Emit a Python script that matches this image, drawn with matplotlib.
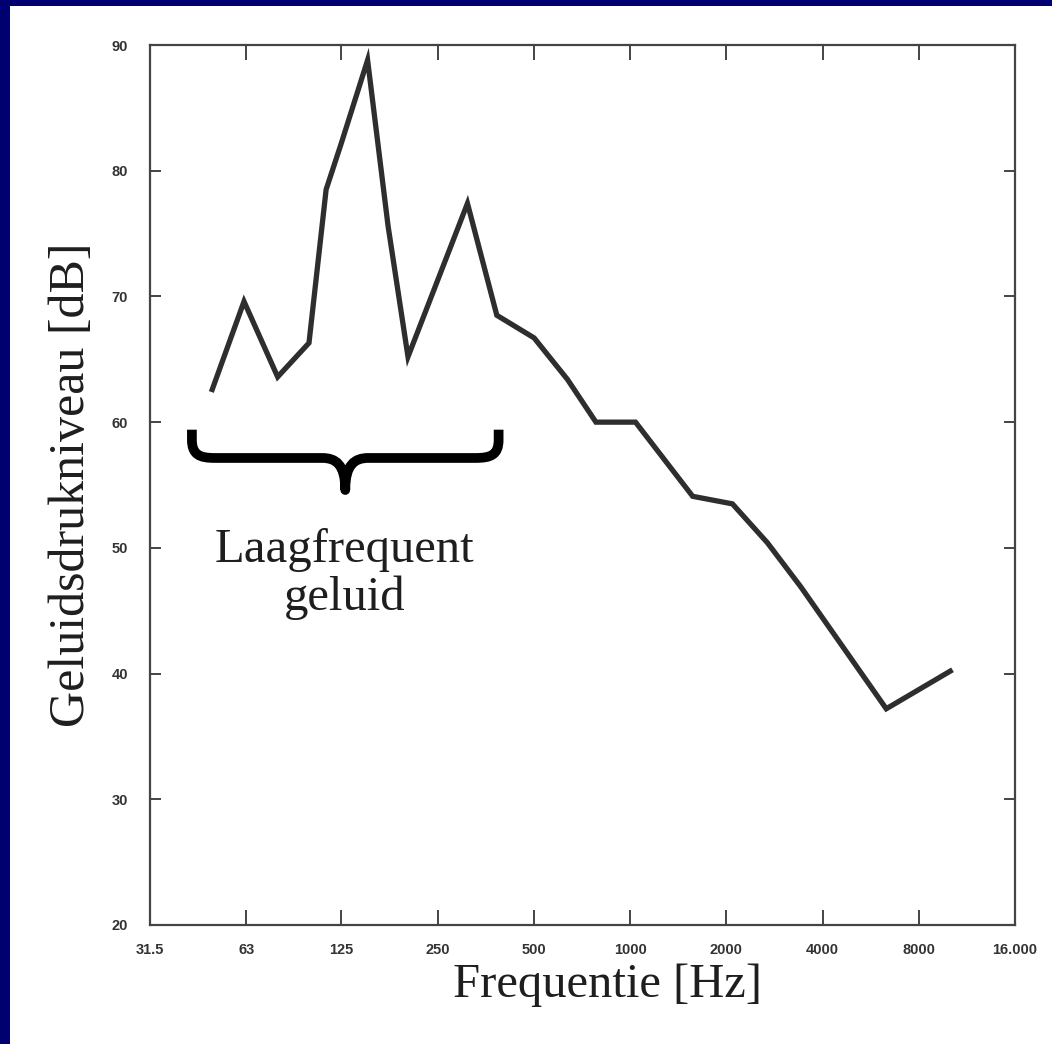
import numpy as np
import matplotlib.pyplot as plt
from matplotlib.path import Path
from matplotlib.patches import PathPatch, Rectangle

# spectrum (frequency in Hz, sound pressure level in dB)
freq_hz = [49, 62, 79, 99, 112, 125, 151, 175, 202, 310, 383, 501, 637, 782,
           1040, 1570, 2090, 2690, 3420, 6330, 10200]
level_db = [62.4, 69.6, 63.6, 66.3, 78.5, 82.2, 88.8, 75.6, 65.2, 77.4, 68.5,
            66.7, 63.4, 60.0, 60.0, 54.1, 53.5, 50.4, 46.9, 37.2, 40.3]

xticks = [31.5, 63, 125, 250, 500, 1000, 2000, 4000, 8000, 16000]
xticklabels = ['31.5', '63', '125', '250', '500', '1000', '2000', '4000', '8000', '16.000']
yticks = [20, 30, 40, 50, 60, 70, 80, 90]

# low frequency band marked by the brace
band_lo, band_hi = 42.6, 388
brace_top, brace_mid, brace_tip = 59.4, 57.15, 54.6

W, H, DPI = 1052, 1044, 100
fig = plt.figure(figsize=(W / DPI, H / DPI), dpi=DPI)
fig.patch.set_facecolor('white')

# navy frame on the left and top edge
fig.add_artist(Rectangle((0, 0), 10 / W, 1, transform=fig.transFigure, color='#000070', lw=0))
fig.add_artist(Rectangle((0, 1 - 6 / H), 1, 6 / H, transform=fig.transFigure, color='#000070', lw=0))

ax = fig.add_axes([150 / W, 1 - 925 / H, 865 / W, 880 / H])
ax.set_xscale('log', base=2)
ax.set_xlim(31.5, 16000)
ax.set_ylim(20, 90)

ax.plot(freq_hz, level_db, color='#2e2e2e', lw=3.8, solid_joinstyle='miter', solid_capstyle='butt')


def brace(ax, f0, f1, ytop, ymid, ytip):
    # build in (octave, dB) space, then map octaves back to Hz
    o0, o1 = np.log2(f0), np.log2(f1)
    oc = 0.5 * (o0 + o1)
    r = 0.24
    pts = [(o0, ytop), (o0, ytop - 0.8),
           (o0, ytop - 2.0), (o0 + 0.08, ymid), (o0 + r, ymid),
           (oc - r, ymid),
           (oc - 0.1, ymid), (oc, ymid - 0.5), (oc, ytip),
           (oc, ymid - 0.5), (oc + 0.1, ymid), (oc + r, ymid),
           (o1 - r, ymid),
           (o1 - 0.08, ymid), (o1, ytop - 2.0), (o1, ytop - 0.8),
           (o1, ytop)]
    codes = [Path.MOVETO, Path.LINETO,
             Path.CURVE4, Path.CURVE4, Path.CURVE4,
             Path.LINETO,
             Path.CURVE4, Path.CURVE4, Path.CURVE4,
             Path.CURVE4, Path.CURVE4, Path.CURVE4,
             Path.LINETO,
             Path.CURVE4, Path.CURVE4, Path.CURVE4,
             Path.LINETO]
    verts = [(2 ** o, y) for o, y in pts]
    ax.add_patch(PathPatch(Path(verts, codes), fill=False, lw=7, color='black',
                           capstyle='butt', joinstyle='round'))


brace(ax, band_lo, band_hi, brace_top, brace_mid, brace_tip)

ax.text(128, 47.9, 'Laagfrequent\ngeluid', ha='center', va='center',
        family='Liberation Serif', fontsize=35, color='#1e1e1e', linespacing=1.1)

ax.set_xticks(xticks)
ax.set_xticklabels(xticklabels)
ax.minorticks_off()
ax.set_yticks(yticks)
for lab in ax.get_xticklabels() + ax.get_yticklabels():
    lab.set_family('Liberation Sans')
    lab.set_fontweight('bold')
    lab.set_fontsize(10.5)
    lab.set_color('#333333')

ax.tick_params(axis='x', direction='in', length=11, width=1.4, color='#444444',
               pad=13, top=True, bottom=True)
ax.tick_params(axis='y', direction='in', length=8, width=1.4, color='#444444',
               pad=16, left=True, right=True)
for sp in ax.spines.values():
    sp.set_linewidth(1.6)
    sp.set_color('#444444')

fig.text(72 / W, 1 - 485 / H, 'Geluidsdrukniveau [dB]', rotation=90, ha='center', va='center',
         family='Liberation Serif', fontsize=36, color='#1e1e1e')
fig.text(608 / W, 1 - 985 / H, 'Frequentie [Hz]', ha='center', va='center',
         family='Liberation Serif', fontsize=35, color='#1e1e1e')

fig.savefig('out.png', dpi=DPI)
